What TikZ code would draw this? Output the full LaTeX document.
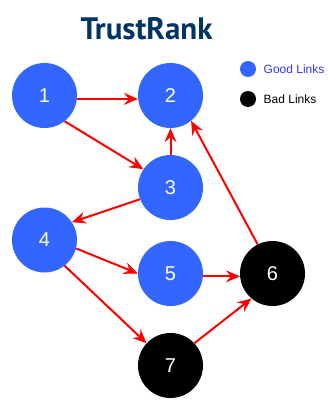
\documentclass[tikz,border=0pt]{standalone}
\usepackage{fontspec}
\setmainfont{Liberation Sans}
\newfontfamily\titlefont{PT Sans}
\usetikzlibrary{arrows.meta, positioning}
\definecolor{goodblue}{RGB}{51,102,255}
\definecolor{titleblue}{RGB}{0,51,102}
\definecolor{legendblue}{RGB}{51,51,255}
\tikzset{
  good/.style={circle, fill=goodblue, minimum size=65pt, inner sep=0pt, text=white, font=\fontsize{20}{20}\selectfont},
  bad/.style={good, fill=black},
  link/.style={draw=red, line width=2pt, -{Stealth[length=14pt, width=12pt, inset=5pt]}},
  keydot/.style={circle, minimum size=16pt, inner sep=0pt},
  keytext/.style={font=\fontsize{12}{12}\selectfont, right=4pt of #1}
}
\begin{document}
\begin{tikzpicture}[x=1pt, y=-1pt]
  \useasboundingbox (0,0) rectangle (328,404);
  \node[text=titleblue, font=\titlefont\bfseries\fontsize{31}{31}\selectfont, anchor=base] (title) at (146.5,40) {TrustRank};
  % pages
  \node[good] (n1) at (44.5,95.5) {1};
  \node[good] (n2) at (170.5,95.5) {2};
  \node[good] (n3) at (170.5,187.5) {3};
  \node[good] (n4) at (44.5,240) {4};
  \node[good] (n5) at (170.5,273.5) {5};
  \node[bad] (n6) at (272.5,273.5) {6};
  \node[bad] (n7) at (170.5,365.5) {7};
  % links
  \draw[link] (n1.-6) -- (n2.186);
  \draw[link] (n1.-52) -- (n3.146);
  \draw[link] (n3.90) -- (n2.270);
  \draw[link] (n3.201) -- (n4.33);
  \draw[link] (n4.-15) -- (n5.180);
  \draw[link] (n4.-52) -- (n7.137);
  \draw[link] (n5.-5) -- (n6.185);
  \draw[link] (n7.43) -- (n6.230);
  \draw[link] (n6.117) -- (n2.-51);
  % legend
  \node[keydot, fill=goodblue] (goodkey) at (248,69) {};
  \node[keytext=goodkey, text=legendblue] (goodlabel) {Good Links};
  \node[keydot, fill=black] (badkey) at (248,99) {};
  \node[keytext=badkey] (badlabel) {Bad Links};
\end{tikzpicture}
\end{document}
